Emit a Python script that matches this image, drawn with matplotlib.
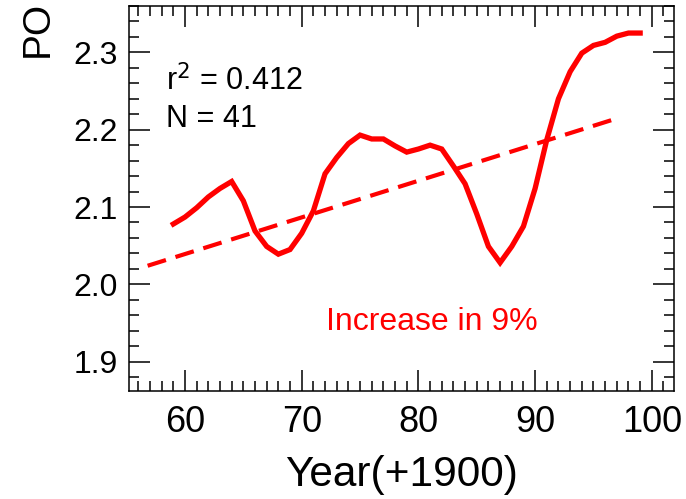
import matplotlib
matplotlib.use('Agg')
import matplotlib.pyplot as plt
from matplotlib.ticker import MultipleLocator

plt.rcParams['font.family'] = ['Liberation Sans', 'DejaVu Sans']

# annual series, 1959-1999 (N = 41)
years = list(range(59, 100))
values = [2.078, 2.087, 2.099, 2.113, 2.124, 2.133, 2.108, 2.069, 2.049, 2.039,
          2.045, 2.066, 2.095, 2.143, 2.164, 2.182, 2.193, 2.188, 2.188, 2.179,
          2.171, 2.175, 2.180, 2.175, 2.153, 2.130, 2.091, 2.049, 2.028, 2.049,
          2.075, 2.124, 2.187, 2.240, 2.275, 2.299, 2.309, 2.313, 2.321, 2.325,
          2.325]

# linear fit endpoints
trend_years = [56.8, 97.1]
trend_values = [2.024, 2.215]

x_ticks = [60, 70, 80, 90, 100]
y_ticks = [1.9, 2.0, 2.1, 2.2, 2.3]

fig = plt.figure(figsize=(6.86, 4.99), dpi=100)
ax = fig.add_axes([0.188, 0.2164, 0.7945, 0.7716])

ax.plot(years, values, color='red', lw=3.8, solid_joinstyle='miter')
ax.plot(trend_years, trend_values, color='red', lw=3.0, dashes=(4.6, 2.4))

ax.set_xlim(55.2, 101.9)
ax.set_ylim(1.862, 2.360)
ax.set_xticks(x_ticks)
ax.set_yticks(y_ticks)
ax.set_yticklabels([f'{v:.1f}' for v in y_ticks])
ax.xaxis.set_minor_locator(MultipleLocator(1))
ax.yaxis.set_minor_locator(MultipleLocator(0.02))

ax.tick_params(which='both', direction='in', top=True, right=True, width=1.1)
ax.tick_params(which='major', length=15)
ax.tick_params(which='minor', length=7.5)
ax.tick_params(axis='x', labelsize=26, pad=10)
ax.tick_params(axis='y', labelsize=23, pad=8)
for s in ax.spines.values():
    s.set_linewidth(1.1)

ax.set_xlabel('Year(+1900)', fontsize=30.5, labelpad=11)
fig.text(0.07, 0.886, 'PO', rotation=90, rotation_mode='anchor',
         ha='left', va='baseline', fontsize=28)

fig.text(0.2415, 0.8182, 'r$^2$ = 0.412', fontsize=22, va='baseline')
fig.text(0.2415, 0.746, 'N = 41', fontsize=22, va='baseline')
fig.text(0.4752, 0.3387, 'Increase in 9%', fontsize=23, va='baseline', color='red')

plt.savefig('out.png', dpi=100)
plt.close()
